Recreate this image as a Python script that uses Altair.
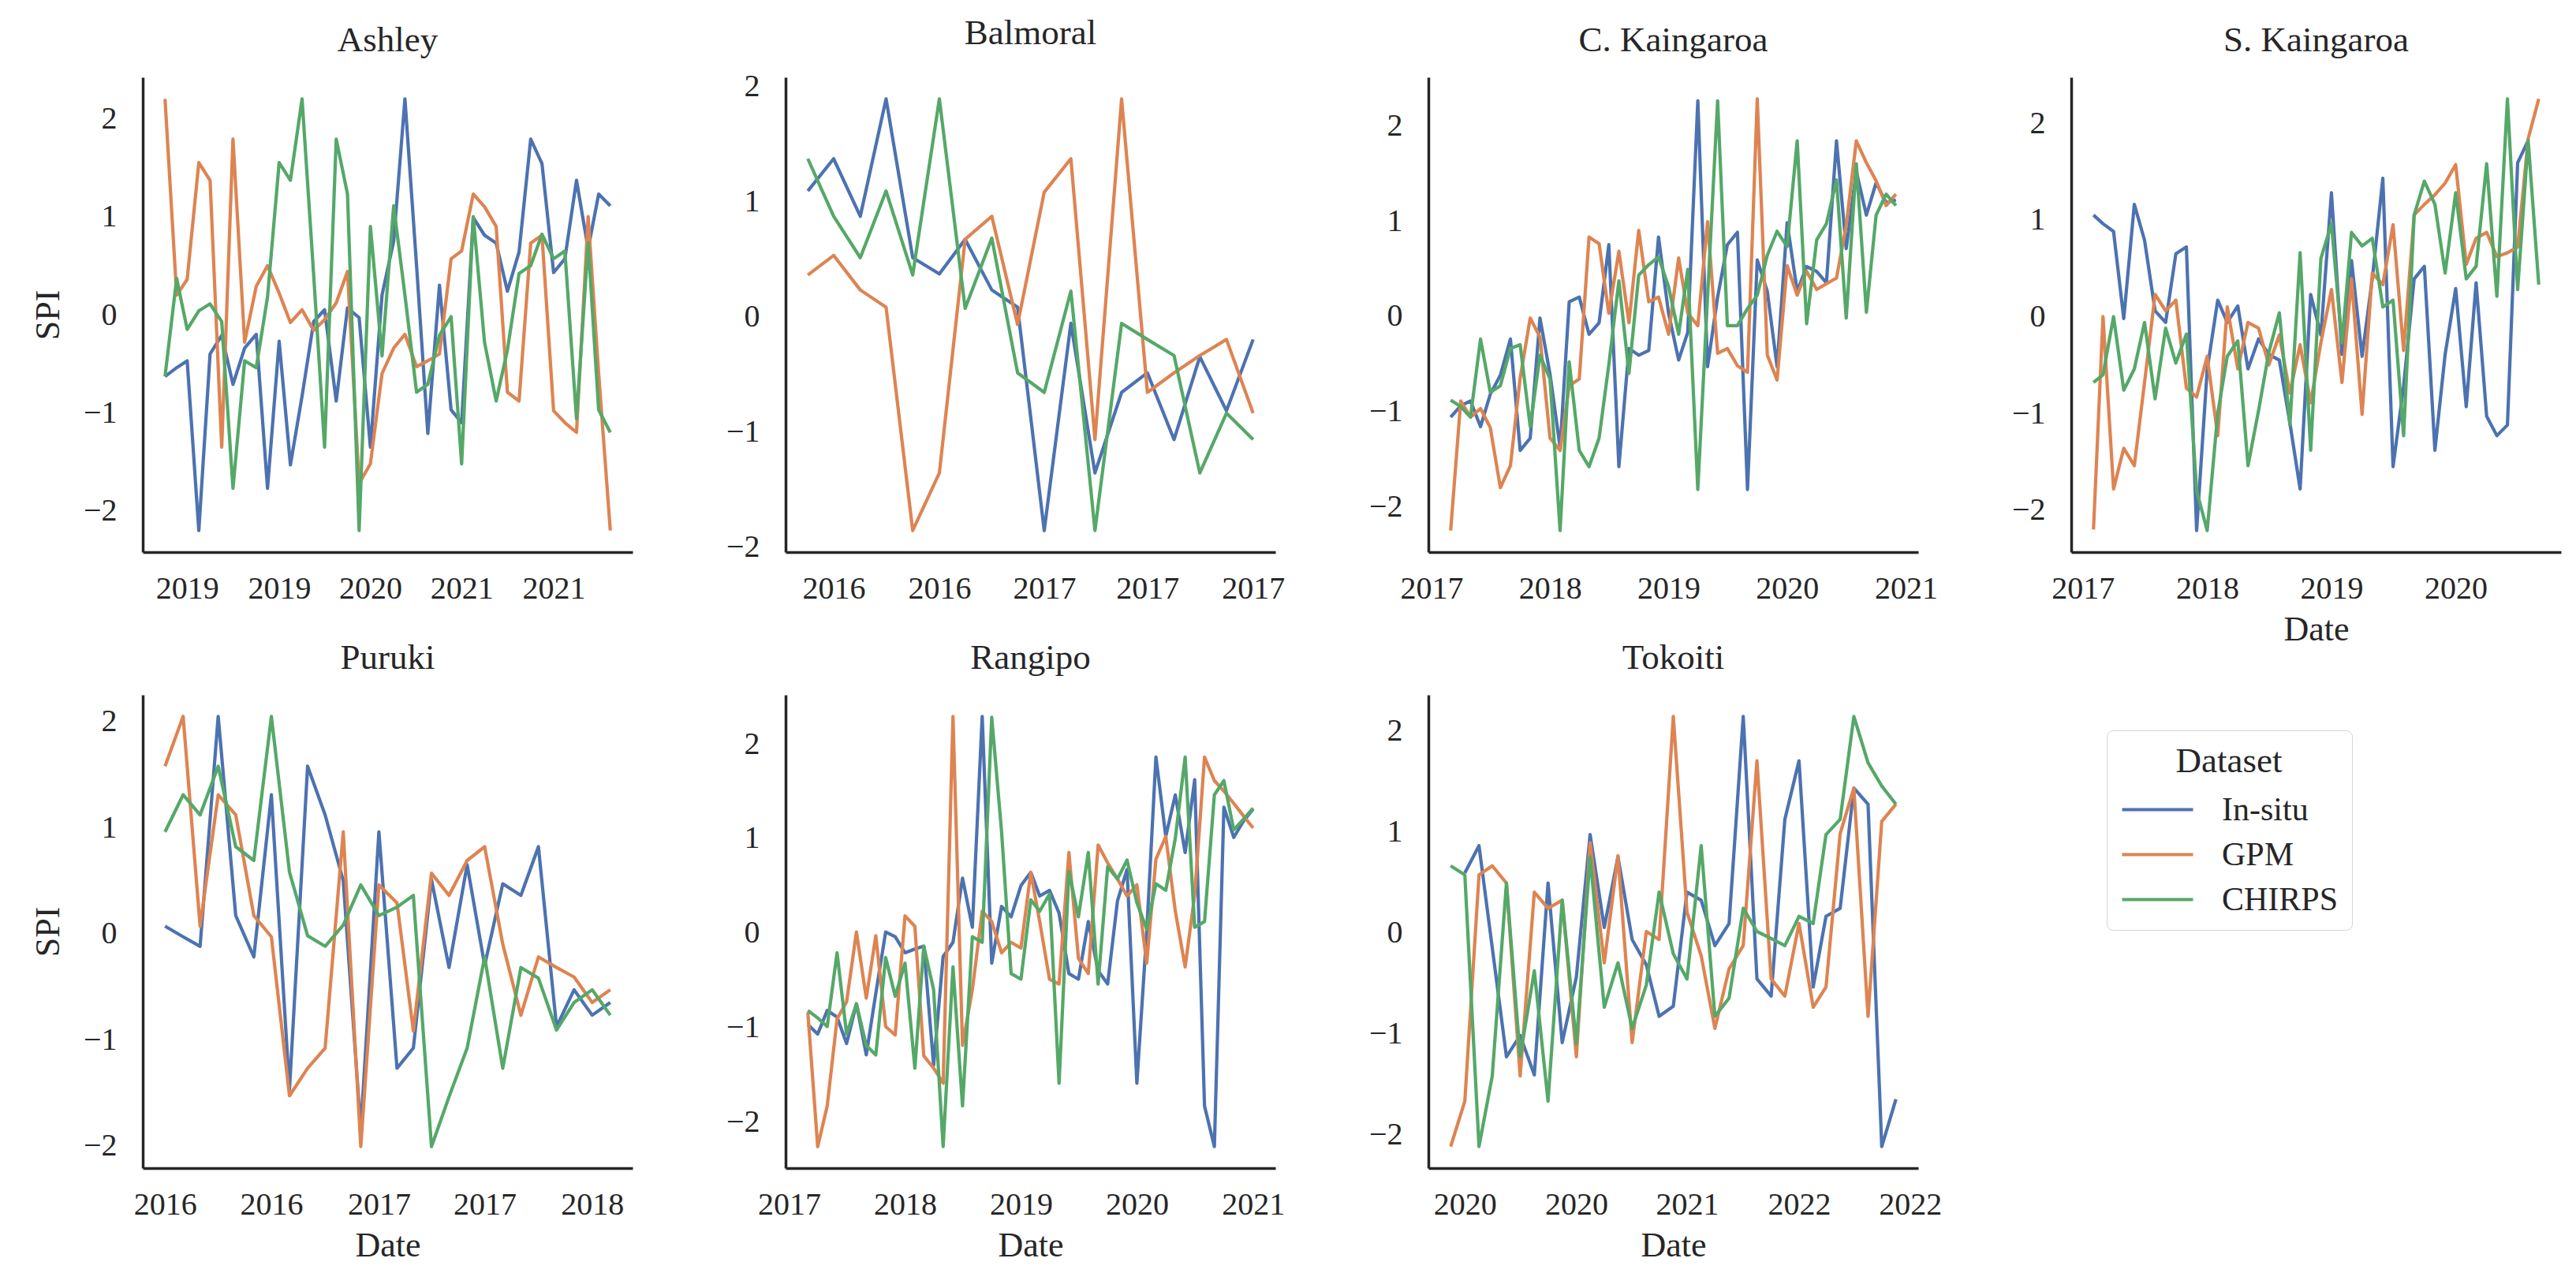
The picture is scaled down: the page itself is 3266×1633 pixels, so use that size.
import altair as alt
import pandas as pd

SERIES = ["In-situ", "GPM", "CHIRPS"]
COLORS = ["#4C72B0", "#DD8452", "#55A868"]
FONT = "Liberation Serif"
INK = "#262626"

# ---------------- Ashley ----------------
ashley_start = "2019-01"
ashley_ticks = ["2019-03", "2019-11", "2020-07", "2021-03", "2021-11"]
ashley_insitu = [-0.63, -0.54, -0.47, -2.2, -0.4, -0.21, -0.71, -0.34, -0.2, -1.77,
                 -0.27, -1.53, -0.83, -0.07, 0.05, -0.88, 0.07, -0.03, -1.35, 0.2,
                 0.75, 2.2, 0.5, -1.21, 0.3, -0.97, -1.1, 0.99, 0.81, 0.73,
                 0.24, 0.64, 1.79, 1.54, 0.43, 0.57, 1.37, 0.67, 1.23, 1.11]
ashley_gpm = [2.2, 0.2, 0.36, 1.55, 1.37, -1.35, 1.79, -0.28, 0.29, 0.5,
              0.22, -0.08, 0.05, -0.16, -0.05, 0.12, 0.44, -1.72, -1.52, -0.6,
              -0.34, -0.2, -0.53, -0.47, -0.4, 0.57, 0.65, 1.23, 1.1, 0.9,
              -0.79, -0.88, 0.73, 0.81, -0.98, -1.1, -1.2, 1.0, -0.6, -2.2]
ashley_chirps = [-0.63, 0.37, -0.15, 0.04, 0.11, -0.07, -1.77, -0.47, -0.54, 0.18,
                 1.55, 1.37, 2.2, 0.4, -1.35, 1.79, 1.23, -2.2, 0.9, -0.42,
                 1.11, 0.2, -0.79, -0.71, -0.21, -0.02, -1.52, 1.0, -0.28, -0.88,
                 -0.36, 0.42, 0.5, 0.82, 0.57, 0.65, -1.06, 0.73, -0.97, -1.2]

# ---------------- Balmoral ----------------
balmoral_start = "2016-04"
balmoral_ticks = ["2016-05", "2016-09", "2017-01", "2017-05", "2017-09"]
balmoral_insitu = [1.09, 1.37, 0.87, 1.89, 0.51, 0.37, 0.67, 0.23, 0.08, -1.86,
                   -0.06, -1.36, -0.66, -0.49, -1.07, -0.35, -0.82, -0.2]
balmoral_gpm = [0.36, 0.53, 0.23, 0.08, -1.86, -1.36, 0.67, 0.87, -0.07, 1.08,
                1.37, -1.07, 1.89, -0.66, -0.49, -0.34, -0.2, -0.84]
balmoral_chirps = [1.37, 0.87, 0.51, 1.09, 0.36, 1.89, 0.07, 0.68, -0.49, -0.66,
                   0.22, -1.86, -0.06, -0.2, -0.34, -1.36, -0.84, -1.07]

# ---------------- C. Kaingaroa ----------------
ckaing_start = "2017-03"
ckaing_ticks = ["2017-01", "2018-01", "2019-01", "2020-01", "2021-01"]
ckaing_insitu = [-1.06, -0.94, -0.89, -1.16, -0.82, -0.62, -0.24, -1.41, -1.28, -0.02,
                 -0.61, -1.38, 0.15, 0.2, -0.19, -0.07, 0.75, -1.58, -0.34, -0.41,
                 -0.36, 0.83, 0.03, -0.46, -0.17, 2.26, -0.53, 0.2, 0.75, 0.88,
                 -1.82, 0.59, 0.26, -0.53, 0.98, 0.26, 0.52, 0.47, 0.35, 1.84,
                 0.71, 1.52, 1.06, 1.4, 1.19, 1.22]
ckaing_gpm = [-2.25, -0.89, -1.06, -0.97, -1.17, -1.8, -1.57, -0.65, -0.02, -0.22,
              -1.28, -1.41, -0.73, -0.66, 0.83, 0.76, 0.03, 0.68, -0.07, 0.9,
              0.15, 0.2, -0.19, 0.61, 0.03, -0.1, 0.99, -0.39, -0.34, -0.52,
              -0.59, 2.28, -0.41, -0.67, 0.53, 0.22, 0.47, 0.28, 0.34, 0.4,
              0.95, 1.84, 1.61, 1.42, 1.16, 1.28]
ckaing_chirps = [-0.88, -0.95, -1.06, -0.24, -0.8, -0.73, -0.34, -0.3, -1.16, -0.41,
                 -0.66, -2.25, -0.48, -1.41, -1.58, -1.28, -0.51, 0.37, -0.6, 0.43,
                 0.54, 0.62, 0.31, -0.19, 0.49, -1.82, 0.2, 2.26, -0.1, -0.1,
                 0.08, 0.22, 0.64, 0.89, 0.73, 1.84, -0.08, 0.8, 0.97, 1.43,
                 -0.02, 1.6, 0.04, 1.06, 1.28, 1.16]

# ---------------- S. Kaingaroa ----------------
skaing_start = "2017-02"
skaing_ticks = ["2017-01", "2018-01", "2019-01", "2020-01"]
skaing_insitu = [1.05, 0.96, 0.88, -0.02, 1.16, 0.79, 0.06, -0.06, 0.65, 0.72,
                 -2.21, -0.55, 0.17, -0.06, 0.11, -0.54, -0.23, -0.39, -0.45, -1.1,
                 -1.78, 0.23, -0.19, 1.28, -0.39, 0.58, -0.41, 0.39, 1.43, -1.55,
                 -0.72, 0.39, 0.52, -1.38, -0.39, 0.29, -0.93, 0.35, -1.03, -1.23,
                 -1.12, 1.59, 1.82, None]
skaing_gpm = [-2.2, 0.0, -1.78, -1.36, -1.54, -0.68, 0.23, 0.06, 0.17, -0.74,
              -0.83, -0.41, -1.23, 0.1, -0.54, -0.06, -0.12, -0.5, -0.19, -0.79,
              -0.29, -0.89, -0.27, 0.28, -0.68, 0.39, -1.01, 0.45, 0.33, 0.95,
              -0.35, 1.05, 1.16, 1.26, 1.38, 1.57, 0.54, 0.81, 0.87, 0.62,
              0.66, 0.72, 1.84, 2.25]
skaing_chirps = [-0.68, -0.6, 0.0, -0.76, -0.54, -0.06, -0.85, -0.12, -0.48, -0.18,
                 -1.8, -2.21, -1.0, -0.41, -0.25, -1.54, -0.97, -0.37, 0.04, -1.12,
                 0.66, -1.38, 0.6, 0.96, -0.27, 0.87, 0.73, 0.81, 0.1, 0.17,
                 -1.23, 1.05, 1.4, 1.16, 0.45, 1.28, 0.39, 0.52, 1.58, 0.21,
                 2.25, 0.28, 1.82, 0.33]

# ---------------- Puruki ----------------
puruki_start = "2016-01"
puruki_ticks = ["2016-01", "2016-07", "2017-01", "2017-07", "2018-01"]
puruki_insitu = [0.07, -0.03, -0.12, 2.05, 0.17, -0.22, 1.31, -1.47, 1.58, 1.12,
                 0.5, -1.85, 0.96, -1.27, -1.08, 0.51, -0.32, 0.65, -0.3, 0.47,
                 0.36, 0.82, -0.88, -0.53, -0.77, -0.65]
puruki_gpm = [1.58, 2.05, 0.07, 1.31, 1.12, 0.17, -0.03, -1.53, -1.27, -1.08,
              0.96, -2.01, 0.46, 0.29, -0.92, 0.57, 0.36, 0.69, 0.82, -0.1,
              -0.77, -0.22, -0.32, -0.41, -0.65, -0.53]
puruki_chirps = [0.96, 1.31, 1.12, 1.58, 0.82, 0.69, 2.05, 0.58, -0.02, -0.12,
                 0.08, 0.46, 0.17, 0.25, 0.36, -2.01, -1.54, -1.08, -0.22, -1.27,
                 -0.32, -0.42, -0.91, -0.65, -0.53, -0.77]

# ---------------- Rangipo ----------------
rangipo_start = "2017-03"
rangipo_ticks = ["2017-01", "2018-01", "2019-01", "2020-01", "2021-01"]
rangipo_insitu = [-0.97, -1.07, -0.82, -0.89, -1.17, -0.75, -1.29, -0.64, 0.01, -0.04,
                  -0.21, -0.17, -0.14, -1.4, -0.25, -0.1, 0.58, 0.06, 2.29, -0.32,
                  0.28, 0.17, 0.5, 0.64, 0.39, 0.45, 0.21, -0.43, -0.49, 0.12,
                  -0.4, -0.54, 0.34, 0.67, -1.59, 0.01, 1.86, 1.02, 1.46, 0.85,
                  1.62, -1.83, -2.26, 1.33, 1.01, 1.18, 1.31]
rangipo_gpm = [-0.84, -2.26, -1.83, -0.91, -0.73, 0.01, -0.69, -0.03, -0.99, -1.08,
               0.18, 0.07, -1.3, -1.43, -1.59, 2.29, -1.19, -0.6, 0.23, 0.12,
               -0.21, -0.1, -0.16, 0.64, 0.12, -0.49, -0.54, 0.85, -0.27, -0.43,
               0.93, 0.74, 0.57, 0.39, 0.51, -0.32, 0.78, 1.02, 0.23, -0.36,
               0.4, 1.86, 1.61, 1.5, 1.37, 1.24, 1.11]
rangipo_chirps = [-0.82, -0.9, -0.99, -0.21, -1.07, -0.75, -1.19, -1.29, -0.26, -0.67,
                  -0.32, -1.43, -0.14, -0.6, -2.26, -0.36, -1.83, -0.04, -0.1, 2.28,
                  1.07, -0.43, -0.49, 0.35, 0.23, 0.41, -1.59, 0.65, 0.17, 0.85,
                  -0.54, 0.7, 0.57, 0.77, 0.32, 0.04, 0.52, 0.45, 1.0, 1.86,
                  0.06, 0.12, 1.46, 1.61, 1.09, 1.2, 1.32]

# ---------------- Tokoiti ----------------
tokoiti_start = "2019-12"
tokoiti_ticks = ["2020-01", "2020-09", "2021-05", "2022-01", "2022-09"]
tokoiti_insitu = [None, 0.59, 0.86, -0.15, -1.23, -1.02, -1.41, 0.49, -1.09, -0.44,
                  0.97, 0.05, 0.75, -0.07, -0.32, -0.83, -0.73, 0.4, 0.32, -0.13,
                  0.09, 2.14, -0.46, -0.63, 1.12, 1.7, -0.54, 0.16, 0.24, 1.43,
                  1.27, -2.12, -1.65]
tokoiti_gpm = [-2.12, -1.67, 0.57, 0.66, 0.49, -1.42, 0.4, 0.24, 0.32, -1.23,
               0.89, -0.3, 0.76, -1.09, 0.01, -0.07, 2.14, 0.2, -0.23, -0.95,
               -0.36, -0.13, 1.7, -0.46, -0.63, 0.09, -0.74, -0.54, 0.98, 1.43,
               -0.83, 1.1, 1.27]
tokoiti_chirps = [0.66, 0.57, -2.12, -1.42, 0.49, -1.23, -0.38, -1.67, 0.32, -1.1,
                  0.75, -0.74, -0.3, -0.95, -0.52, 0.4, -0.21, -0.46, 0.86, -0.83,
                  -0.65, 0.24, 0.01, -0.06, -0.13, 0.16, 0.09, 0.97, 1.12, 2.14,
                  1.68, 1.45, 1.27]

PANELS = [
    ("Ashley", ashley_start, ashley_ticks, ashley_insitu, ashley_gpm, ashley_chirps),
    ("Balmoral", balmoral_start, balmoral_ticks, balmoral_insitu, balmoral_gpm, balmoral_chirps),
    ("C. Kaingaroa", ckaing_start, ckaing_ticks, ckaing_insitu, ckaing_gpm, ckaing_chirps),
    ("S. Kaingaroa", skaing_start, skaing_ticks, skaing_insitu, skaing_gpm, skaing_chirps),
    ("Puruki", puruki_start, puruki_ticks, puruki_insitu, puruki_gpm, puruki_chirps),
    ("Rangipo", rangipo_start, rangipo_ticks, rangipo_insitu, rangipo_gpm, rangipo_chirps),
    ("Tokoiti", tokoiti_start, tokoiti_ticks, tokoiti_insitu, tokoiti_gpm, tokoiti_chirps),
]

SHOW_Y_TITLE = {"Ashley", "Puruki"}
SHOW_X_TITLE = {"S. Kaingaroa", "Puruki", "Rangipo", "Tokoiti"}
ROW_HEIGHT = {0: 602, 1: 600}
WIDTH = 621


def ms(ts):
    return int(pd.Timestamp(ts).value // 10**6)


legend = alt.Legend(
    title="Dataset", orient="none", legendX=2490, legendY=828,
    symbolType="M-1,0H2.75", symbolSize=2304, symbolStrokeWidth=4.2,
    labelOffset=76, rowPadding=9, padding=17,
    strokeColor="#d4d4d4", fillColor="white", cornerRadius=8,
    titleAnchor="middle", titlePadding=12,
)

charts = []
for k, (name, start, ticks, ins, gpm, chi) in enumerate(PANELS):
    n = len(gpm)
    dates = pd.date_range(start + "-01", periods=n, freq="MS")
    recs = []
    for sname, vals in zip(SERIES, [ins, gpm, chi]):
        for d, v in zip(dates, vals):
            if v is not None:
                recs.append({"date": d.strftime("%Y-%m-%d"), "SPI": v, "Dataset": sname})
    df = pd.DataFrame(recs)
    t0, t1 = ms(dates[0]), ms(dates[-1])
    tpad = 0.05 * (t1 - t0)
    lo, hi = float(df["SPI"].min()), float(df["SPI"].max())
    ypad = 0.05 * (hi - lo)
    row = 0 if k < 4 else 1
    ch = alt.Chart(df).mark_line(strokeWidth=4.2, strokeJoin="round").encode(
        x=alt.X("date:T",
                scale=alt.Scale(type="utc", domain=[t0 - tpad, t1 + tpad], nice=False),
                axis=alt.Axis(values=[ms(t + "-01") for t in ticks],
                              labelExpr="utcFormat(datum.value, '%Y')",
                              labelFlush=False, labelOverlap=False,
                              title="Date" if name in SHOW_X_TITLE else None)),
        y=alt.Y("SPI:Q",
                scale=alt.Scale(domain=[lo - ypad, hi + ypad], nice=False, zero=False),
                axis=alt.Axis(values=[-2, -1, 0, 1, 2], format="d",
                              title="SPI" if name in SHOW_Y_TITLE else None)),
        color=alt.Color("Dataset:N", scale=alt.Scale(domain=SERIES, range=COLORS),
                        sort=SERIES, legend=legend),
    ).properties(width=WIDTH, height=ROW_HEIGHT[row], title=name)
    charts.append(ch)

chart = alt.concat(
    *charts, columns=4, spacing={"row": 181, "column": 194}, bounds="flush"
).properties(
    padding={"left": 31, "top": 12, "right": 5, "bottom": 5}
).configure_view(
    stroke=None
).configure_title(
    font=FONT, fontSize=45, fontWeight="normal", color=INK, offset=24, anchor="middle"
).configure_axis(
    domainColor=INK, domainWidth=3.5, ticks=False, grid=False,
    labelFont=FONT, labelFontSize=40, labelColor=INK,
    titleFont=FONT, titleFontSize=44, titleFontWeight="normal", titleColor=INK,
).configure_axisX(
    labelPadding=26, titlePadding=10
).configure_axisY(
    labelPadding=33, titlePadding=22
).configure_legend(
    labelFont=FONT, labelFontSize=42, labelColor=INK,
    titleFont=FONT, titleFontSize=45, titleFontWeight="normal", titleColor=INK,
)

chart.save("out.html", embed_options={"renderer": "svg", "actions": False})
